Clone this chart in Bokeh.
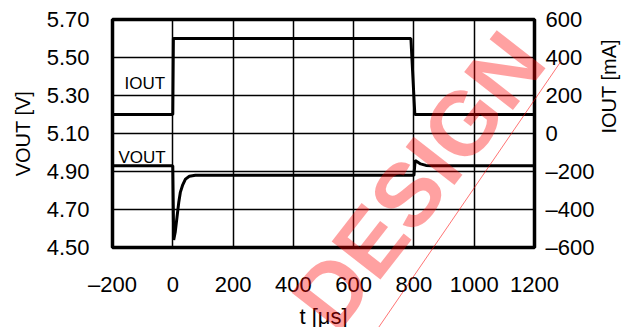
import math
from bokeh.plotting import figure
from bokeh.models import LinearAxis, Range1d, FixedTicker, Label, Arrow, PrintfTickFormatter
from bokeh.embed import file_html
from bokeh.resources import INLINE

# ---- data ----
t_vout = [-200, 0, 3, 8, 14, 20, 25, 33, 42, 55, 75, 800, 804, 812, 822, 840, 860, 1200]
vout = [4.93, 4.93, 4.54, 4.58, 4.66, 4.74, 4.79, 4.83, 4.86, 4.875, 4.88, 4.88,
        4.958, 4.95, 4.94, 4.932, 4.93, 4.93]
t_iout = [-200, 0, 2, 790, 803, 1200]
iout = [100, 100, 500, 500, 100, 100]

x_ticks = [-200, 0, 200, 400, 600, 800, 1000, 1200]
x_tick_labels = ["–200", "0", "200", "400", "600", "800", "1000", "1200"]
v_ticks = [4.5, 4.7, 4.9, 5.1, 5.3, 5.5, 5.7]
i_ticks = [-600, -400, -200, 0, 200, 400, 600]
i_tick_labels = ["–600", "–400", "–200", "0", "200", "400", "600"]

FONT = "Liberation Sans"

p = figure(frame_width=422, frame_height=228,
           x_range=Range1d(-200, 1200), y_range=Range1d(4.5, 5.7),
           output_backend="svg", toolbar_location=None,
           min_border_left=112, min_border_right=93,
           min_border_top=19, min_border_bottom=80,
           background_fill_color="white", border_fill_color="white")
p.extra_y_ranges = {"i": Range1d(-600, 600)}

p.outline_line_color = "black"
p.outline_line_width = 3.5
p.outline_line_alpha = 1

# grid
p.xgrid.ticker = FixedTicker(ticks=x_ticks)
p.ygrid.ticker = FixedTicker(ticks=v_ticks)
for g in (p.xgrid, p.ygrid):
    g.grid_line_color = "black"
    g.grid_line_width = 1.5
    g.grid_line_alpha = 1

def style_axis(ax, standoff, label_standoff, label_size):
    ax.axis_line_color = None
    ax.major_tick_line_color = None
    ax.minor_tick_line_color = None
    ax.major_tick_out = 0
    ax.major_tick_in = 0
    ax.minor_tick_out = 0
    ax.minor_tick_in = 0
    ax.major_label_text_font = FONT
    ax.major_label_text_font_size = "22px"
    ax.major_label_text_color = "black"
    ax.major_label_standoff = standoff
    ax.axis_label_text_font = FONT
    ax.axis_label_text_font_size = label_size
    ax.axis_label_text_font_style = "normal"
    ax.axis_label_text_color = "black"
    ax.axis_label_standoff = label_standoff

xa = p.xaxis[0]
xa.ticker = FixedTicker(ticks=x_ticks)
xa.major_label_overrides = dict(zip(x_ticks, x_tick_labels))
xa.axis_label = "t [μs]"
style_axis(xa, 24, 4, "22px")

ya = p.yaxis[0]
ya.ticker = FixedTicker(ticks=v_ticks)
ya.formatter = PrintfTickFormatter(format="%.2f")
ya.axis_label = "VOUT [V]"
style_axis(ya, 23, 10, "20px")

ra = LinearAxis(y_range_name="i", ticker=FixedTicker(ticks=i_ticks))
ra.major_label_overrides = dict(zip(i_ticks, i_tick_labels))
ra.axis_label = "IOUT [mA]"
style_axis(ra, 11, 12, "20px")
ra.axis_label_orientation = math.pi / 2
p.add_layout(ra, "right")

# traces
p.line(t_vout, vout, line_color="black", line_width=3)
p.line(t_iout, iout, line_color="black", line_width=3, y_range_name="i")

# in-plot labels
p.add_layout(Label(x=-160, y=5.363, text="IOUT", text_font=FONT, text_font_size="17px",
                   text_color="black", text_baseline="alphabetic", text_align="left"))
p.add_layout(Label(x=-180, y=4.974, text="VOUT", text_font=FONT, text_font_size="17px",
                   text_color="black", text_baseline="alphabetic", text_align="left"))

# watermark: transparent overlay figure covering the whole page (separate root)
wm = figure(width=627, height=327, x_range=Range1d(0, 627), y_range=Range1d(327, 0),
            output_backend="svg", toolbar_location=None, min_border=0,
            x_axis_type=None, y_axis_type=None,
            background_fill_alpha=0, border_fill_alpha=0, outline_line_color=None,
            styles={"position": "absolute", "left": "0px", "top": "0px",
                    "pointer-events": "none"})
wm.xgrid.visible = False
wm.ygrid.visible = False
wm.add_layout(Label(x=418, y=180, text="DESIGN",
                    text_font=FONT, text_font_size="90px",
                    text_font_style="bold", text_color="#ff0000", text_alpha=0.37,
                    text_align="center", text_baseline="middle", angle=52, angle_units="deg"))
wm.add_layout(Arrow(end=None, x_start=561, y_start=60, x_end=376, y_end=330,
                    line_color="#ff0000", line_alpha=0.55, line_width=1))

open("out.html", "w").write(file_html([p, wm], INLINE))
